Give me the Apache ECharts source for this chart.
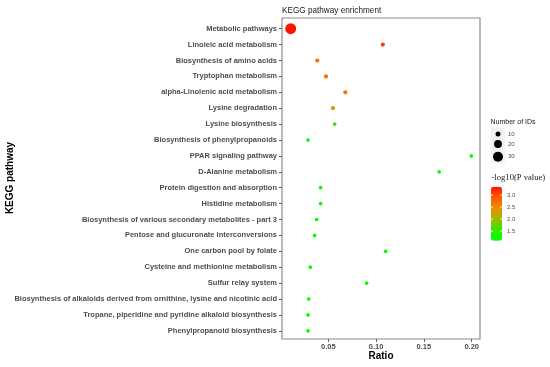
<!DOCTYPE html>
<html>
<head>
<meta charset="utf-8">
<script src="https://cdn.jsdelivr.net/npm/echarts@6/dist/echarts.min.js"></script>
<style>html,body{margin:0;padding:0;background:#fff}#c{width:550px;height:367px}</style>
</head>
<body>
<div id="c"></div>
<script>
const pathways = ['Metabolic pathways','Linoleic acid metabolism','Biosynthesis of amino acids','Tryptophan metabolism','alpha-Linolenic acid metabolism','Lysine degradation','Lysine biosynthesis','Biosynthesis of phenylpropanoids','PPAR signaling pathway','D-Alanine metabolism','Protein digestion and absorption','Histidine metabolism','Biosynthesis of various secondary metabolites - part 3','Pentose and glucuronate interconversions','One carbon pool by folate','Cysteine and methionine metabolism','Sulfur relay system','Biosynthesis of alkaloids derived from ornithine, lysine and nicotinic acid','Tropane, piperidine and pyridine alkaloid biosynthesis','Phenylpropanoid biosynthesis'];
const ratios = [0.0107,0.107,0.0385,0.0476,0.0678,0.0549,0.0567,0.0288,0.1996,0.166,0.042,0.042,0.0378,0.0357,0.110,0.0312,0.0901,0.0295,0.0288,0.0288];
const counts = [35,8,8,8,8,8,7,7,7,7,7,7,7,7,7,7,7,7,7,7];
const logP = [3.35,3.1,2.75,2.72,2.7,2.35,1.6,1.25,1.2,1.25,1.25,1.25,1.2,1.2,1.15,1.2,1.15,1.15,1.15,1.15];
const xTicks = [0.05,0.10,0.15,0.20];
const sizeBreaks = [10,20,30];
const colorBreaks = [3.0,2.5,2.0,1.5];

const sizeFn = n => Math.sqrt(Math.max(4, -12.5 + 3.75*n));
const cMin = 1.1, cMax = 3.35;
const barTop = 186.7, barH = 54, barX = 491, barW = 11;

const data = pathways.map((p,i)=>[ratios[i], p, logP[i], counts[i]]);

const graphics = [
  {type:'rect', shape:{x:282,y:18,width:198,height:321}, style:{fill:'none', stroke:'#8c8c8c', lineWidth:1.2}, z:10},
  {type:'text', x:282, y:11, style:{text:'KEGG pathway enrichment', font:'8.2px "Liberation Sans", Arial', fill:'#1a1a1a', textVerticalAlign:'middle'}},
  {type:'text', x:381, y:356, style:{text:'Ratio', font:'bold 10px "Liberation Sans", Arial', fill:'#000', textAlign:'center', textVerticalAlign:'middle'}},
  {type:'text', x:10, y:178, rotation:Math.PI/2, style:{text:'KEGG pathway', font:'bold 10px "Liberation Sans", Arial', fill:'#000', textAlign:'center', textVerticalAlign:'middle'}},
  {type:'text', x:490.5, y:122, style:{text:'Number of IDs', font:'7px "Liberation Sans", Arial', fill:'#1a1a1a', textVerticalAlign:'middle'}},
  {type:'rect', shape:{x:490.5,y:127.7,width:14.5,height:35}, style:{fill:'#f2f2f2'}},
  {type:'text', x:491.5, y:178, style:{text:'-log10(P value)', font:'8.6px "Liberation Serif", "Times New Roman", serif', fill:'#1a1a1a', textVerticalAlign:'middle'}}
];
const keyY = [134,144,156.7];
sizeBreaks.forEach((b,i)=>{
  graphics.push({type:'circle', shape:{cx:498, cy:keyY[i], r:sizeFn(b)/2}, style:{fill:'#000'}});
  graphics.push({type:'text', x:508, y:keyY[i], style:{text:String(b), font:'6px "Liberation Sans", Arial', fill:'#4d4d4d', textVerticalAlign:'middle'}});
});
colorBreaks.forEach(v=>{
  const y = barTop + (cMax - v)/(cMax - cMin)*barH;
  graphics.push({type:'line', shape:{x1:barX, y1:y, x2:barX+2, y2:y}, style:{stroke:'#fff', lineWidth:0.8}, z:20});
  graphics.push({type:'line', shape:{x1:barX+barW-2, y1:y, x2:barX+barW, y2:y}, style:{stroke:'#fff', lineWidth:0.8}, z:20});
  graphics.push({type:'text', x:507, y:y, style:{text:v.toFixed(1), font:'6px "Liberation Sans", Arial', fill:'#4d4d4d', textVerticalAlign:'middle'}});
});

const chart = echarts.init(document.getElementById('c'), null, {renderer:'canvas'});
chart.setOption({
  animation:false,
  backgroundColor:'#fff',
  grid:{left:282, top:20.75, width:198, height:318, containLabel:false, outerBoundsMode:'none'},
  xAxis:{
    type:'value', min:0.00157, max:0.2087,
    axisLine:{show:false},
    splitLine:{show:false},
    axisTick:{show:true, length:3, customValues:xTicks, lineStyle:{color:'#555'}},
    axisLabel:{customValues:xTicks, formatter:v=>v.toFixed(2), fontSize:7.5, color:'#4d4d4d', margin:4, fontFamily:'"Liberation Sans", Arial', fontWeight:'bold'}
  },
  yAxis:{
    type:'category', data:pathways, inverse:true, boundaryGap:true,
    axisLine:{show:false},
    splitLine:{show:false},
    axisTick:{show:true, length:3, alignWithLabel:true, lineStyle:{color:'#555'}},
    axisLabel:{fontSize:7.5, color:'#4d4d4d', margin:5, fontFamily:'"Liberation Sans", Arial', fontWeight:'bold', interval:0}
  },
  visualMap:{
    type:'continuous', min:cMin, max:cMax, dimension:2, seriesIndex:0,
    left:barX, top:barTop, itemWidth:barW, itemHeight:barH,
    calculable:false, text:null, showLabel:false, padding:0,
    inRange:{color:['#00ff00','#2cec00','#a2b800','#ec9000','#ff5a00','#ff1400']}
  },
  series:[{
    type:'scatter',
    data:data,
    encode:{x:0, y:1},
    symbolSize:v=>sizeFn(v[3]),
    itemStyle:{opacity:1}
  }],
  graphic:graphics
});
</script>
</body>
</html>
